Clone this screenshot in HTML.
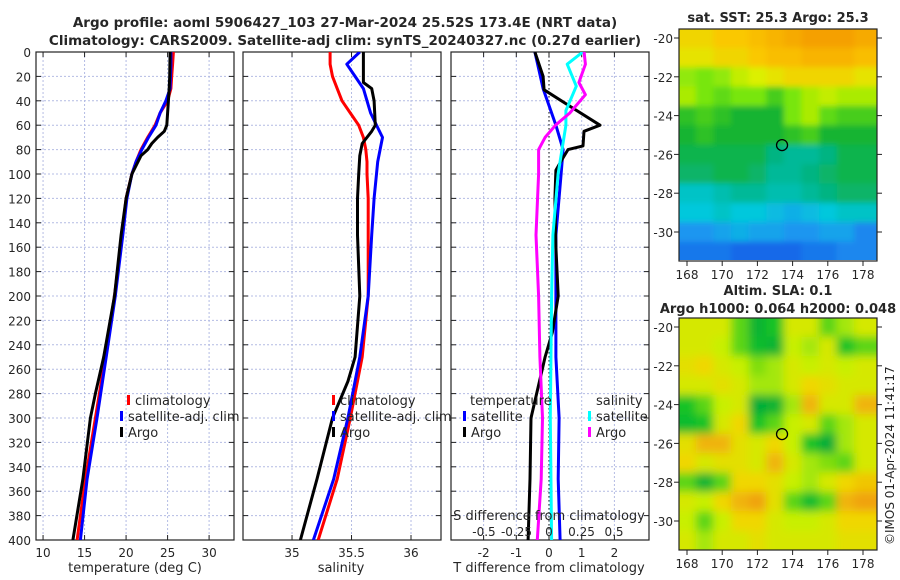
<!DOCTYPE html>
<html><head><meta charset="utf-8">
<style>
body{margin:0;background:#fff;}
svg{display:block;font-family:"DejaVu Sans","Liberation Sans",sans-serif;}
text{fill:#262626;}
</style></head>
<body>
<svg id="fig" width="900" height="580" viewBox="0 0 900 580">
<defs>
<filter id="blurA" x="-5%" y="-5%" width="110%" height="110%"><feGaussianBlur stdDeviation="3"/></filter>
<filter id="blurB" x="-5%" y="-5%" width="110%" height="110%"><feGaussianBlur stdDeviation="4.5"/></filter>
<clipPath id="clipM1"><rect x="679" y="29" width="198" height="231"/></clipPath>
<clipPath id="clipM2"><rect x="679" y="318" width="198" height="232"/></clipPath>
<clipPath id="clipP1"><rect x="36" y="52" width="198" height="488"/></clipPath>
<clipPath id="clipP2"><rect x="243" y="52" width="198" height="488"/></clipPath>
<clipPath id="clipP3"><rect x="451" y="52" width="198" height="488"/></clipPath>
</defs>
<g font-weight="bold" font-size="13.5" text-anchor="middle">
<text x="345" y="27">Argo profile: aoml 5906427_103 27-Mar-2024 25.52S 173.4E (NRT data)</text>
<text x="345" y="45">Climatology: CARS2009. Satellite-adj clim: synTS_20240327.nc (0.27d earlier)</text>
</g>
<text x="778" y="22" font-weight="bold" font-size="13" text-anchor="middle">sat. SST: 25.3 Argo: 25.3</text>
<text x="778" y="295" font-weight="bold" font-size="13" text-anchor="middle">Altim. SLA: 0.1</text>
<text x="778" y="313" font-weight="bold" font-size="13" text-anchor="middle">Argo h1000: 0.064 h2000: 0.048</text>
<text transform="translate(894,545) rotate(-90)" font-size="12">©IMOS 01-Apr-2024 11:41:17</text>
<g id="root"></g>
</svg>
<script>
const depths=[0,10,20,30,40,50,60,70,80,90,100,120,150,200,250,300,350,400];
const tClim=[25.7,25.6,25.5,25.4,25.0,24.1,23.5,22.6,21.8,21.2,20.7,20.0,19.5,18.6,17.5,16.3,15.1,14.1];
const tSat=[25.4,25.4,25.35,25.3,24.8,24.1,23.6,22.7,21.9,21.2,20.7,20.1,19.6,18.7,17.6,16.5,15.3,14.5];
const tArgoD=[0,20,30,50,60,65,70,75,80,85,100,120,150,200,250,280,300,350,400];
const tArgo=[25.3,25.25,25.2,25.0,24.9,24.6,23.8,23.1,22.6,21.8,20.7,20.0,19.4,18.6,17.3,16.3,15.7,14.8,13.6];
const sClim=[35.32,35.32,35.34,35.38,35.42,35.49,35.56,35.60,35.62,35.63,35.63,35.64,35.64,35.64,35.59,35.49,35.38,35.22];
const sSat=[35.57,35.46,35.53,35.60,35.63,35.66,35.71,35.76,35.74,35.72,35.71,35.69,35.67,35.64,35.57,35.47,35.35,35.18];
const sArgoD=[0,25,30,40,60,65,75,85,100,120,150,200,250,270,300,350,400];
const sArgo=[35.60,35.60,35.67,35.69,35.70,35.67,35.59,35.57,35.56,35.55,35.55,35.57,35.53,35.47,35.34,35.21,35.07];
const dTSatD=[0,30,60,80,100,150,200,250,300,350,400];
const dTSat=[-0.43,-0.18,0.21,0.43,0.37,0.21,0.21,0.21,0.31,0.28,0.34];
const dTArgoD=[0,20,31,46,60,65,77,80,88,97,120,160,200,230,250,300,350,400];
const dTArgo=[-0.43,-0.18,-0.15,0.73,1.56,1.07,1.04,0.58,0.40,0.21,0.18,0.21,0.28,0.1,-0.12,-0.55,-0.58,-0.64];
const dSSatD=[0,10,28,48,60,80,100,150,200,300,400];
const dSSat=[0.26,0.14,0.21,0.13,0.13,0.10,0.07,0.03,0.02,0.01,0.02];
const dSArgoD=[0,10,25,35,50,60,70,80,100,150,200,250,300,350,400];
const dSArgo=[0.27,0.28,0.23,0.28,0.16,0.05,-0.03,-0.08,-0.08,-0.10,-0.08,-0.07,-0.05,-0.06,-0.09];
const depthTicks=[0,20,40,60,80,100,120,140,160,180,200,220,240,260,280,300,320,340,360,380,400];
const tTicks=[10,15,20,25,30];
const sTicks=[35,35.5,36];
const sTickLabels=["35","35.5","36"];
const dTTicks=[-2,-1,0,1,2];
const dSTicks=[-0.5,-0.25,0,0.25,0.5];
const dSTickLabels=["-0.5","-0.25","0","0.25","0.5"];
const mapLons=[168,169,170,171,172,173,174,175,176,177,178];
const mapLats=[-20,-21,-22,-23,-24,-25,-26,-27,-28,-29,-30,-31];
const lonTicks=[168,170,172,174,176,178];
const latTicks=[-20,-22,-24,-26,-28,-30];
const sstGrid=[
[26.0,26.0,26.1,26.1,26.2,26.3,26.4,26.5,26.5,26.5,26.4],
[25.9,25.9,26.0,26.0,26.1,26.2,26.2,26.3,26.3,26.3,26.2],
[25.5,25.4,25.5,25.7,25.8,25.9,26.0,26.0,26.0,26.0,25.9],
[25.6,25.4,25.3,25.4,25.4,25.2,25.4,25.6,25.7,25.6,25.6],
[25.1,25.2,25.1,25.0,25.0,25.0,25.4,25.6,25.3,25.2,25.2],
[25.0,25.1,25.0,25.0,25.0,25.0,25.1,25.2,25.0,25.0,25.0],
[24.9,24.9,24.9,24.9,24.9,24.7,24.6,24.6,24.7,24.9,24.9],
[24.8,24.8,24.9,24.9,24.8,24.6,24.6,24.7,24.8,24.9,24.9],
[24.4,24.4,24.5,24.6,24.6,24.5,24.5,24.6,24.7,24.8,24.8],
[24.3,24.3,24.4,24.3,24.3,24.2,24.1,24.2,24.3,24.4,24.4],
[23.9,23.9,24.0,24.1,24.0,24.0,23.9,23.9,24.0,24.0,23.8],
[23.7,23.7,23.7,23.6,23.6,23.6,23.6,23.7,23.7,23.8,23.8]];
const slaGrid=[
[0.5,0.5,0.5,0.3,0.1,0.2,0.5,0.5,0.3,0.4,0.5],
[0.5,0.5,0.45,0.3,0.15,0.1,0.45,0.4,0.5,0.2,0.3],
[0.55,0.6,0.5,0.45,0.35,0.4,0.5,0.45,0.5,0.45,0.5],
[0.5,0.5,0.55,0.5,0.4,0.4,0.5,0.6,0.55,0.5,0.5],
[0.2,0.3,0.45,0.5,0.05,0.1,0.4,0.7,0.5,0.5,0.7],
[0.15,0.2,0.5,0.6,0.2,0.3,0.45,0.5,0.3,0.4,0.5],
[0.55,0.7,0.7,0.55,0.5,0.6,0.45,0.2,0.05,0.4,0.5],
[0.6,0.5,0.55,0.55,0.5,0.7,0.5,0.4,0.35,0.3,0.5],
[0.3,0.1,0.3,0.6,0.6,0.55,0.45,0.4,0.5,0.6,0.65],
[0.5,0.45,0.6,0.7,0.75,0.55,0.3,0.15,0.3,0.7,0.75],
[0.45,0.3,0.45,0.6,0.6,0.5,0.45,0.45,0.5,0.6,0.6],
[0.5,0.4,0.5,0.5,0.55,0.5,0.5,0.5,0.5,0.55,0.55]];
const argoLon=173.4, argoLat=-25.52;

const NS="http://www.w3.org/2000/svg";
const root=document.getElementById('root');
function mk(tag,attrs,parent){const e=document.createElementNS(NS,tag);for(const k in attrs)e.setAttribute(k,attrs[k]);(parent||root).appendChild(e);return e;}
function txt(x,y,s,anchor,parent,size){const t=mk('text',{x:x,y:y,'font-size':size||12,'text-anchor':anchor||'start'},parent);t.textContent=s;return t;}
const Y=d=>52+d*(488/400);

function panel(name,x0,xmin,xmax,ticks,labels){
  const g=mk('g',{});
  
  
  const X=v=>x0+(v-xmin)/(xmax-xmin)*198;
  ticks.forEach(v=>{const l=mk('line',{x1:X(v),x2:X(v),y1:52,y2:540,stroke:'#b4bce4','stroke-width':1,'stroke-dasharray':'2,2'},g);
    });
  depthTicks.forEach(d=>{const l=mk('line',{x1:x0,x2:x0+198,y1:Y(d),y2:Y(d),stroke:'#b4bce4','stroke-width':1,'stroke-dasharray':'2,2'},g);
    
    mk('line',{x1:x0,x2:x0+5,y1:Y(d),y2:Y(d),stroke:'#222'},g);mk('line',{x1:x0+193,x2:x0+198,y1:Y(d),y2:Y(d),stroke:'#222'},g);});
  ticks.forEach((v,i)=>{mk('line',{x1:X(v),x2:X(v),y1:535,y2:540,stroke:'#222'},g);mk('line',{x1:X(v),x2:X(v),y1:52,y2:57,stroke:'#222'},g);
    if(labels){const t=txt(X(v),557,labels[i],'middle',g,12);}});
  const b=mk('rect',{x:x0,y:52,width:198,height:488,fill:'none',stroke:'#222','stroke-width':1.2},g);
  
  return {g,X};
}
function line(p,vals,ds,color,name,clip,w){
  const pts=vals.map((v,i)=>p.X(v).toFixed(1)+','+Y(ds[i]).toFixed(1)).join(' ');
  const l=mk('polyline',{points:pts,fill:'none',stroke:color,'stroke-width':w||3,'stroke-linejoin':'round','clip-path':'url(#'+clip+')'},p.g);
  
}
function legend(p,x,y,color,label,name){
  const g=mk('g',{},p.g);
  
  mk('rect',{x:x,y:y-10,width:3,height:10,fill:color},g);
  txt(x+8,y,label,'start',g,13);
}
depthTicks.forEach(d=>{const t=txt(31,Y(d)+5,String(d),'end',root,12);});

const p1=panel('temperature-panel',36,9.15,33,tTicks,tTicks.map(String));
line(p1,tClim,depths,'#ff0000','temperature-climatology-line','clipP1');
line(p1,tSat,depths,'#0000ff','temperature-satellite-line','clipP1');
line(p1,tArgo,tArgoD,'#000000','temperature-argo-line','clipP1');
legend(p1,127,405,'#ff0000','climatology','legend-climatology');
legend(p1,120,421,'#0000ff','satellite-adj. clim','legend-satellite');
legend(p1,120,437,'#000000','Argo','legend-argo');
txt(135,572,'temperature (deg C)','middle',root,13);

const p2=panel('salinity-panel',243,34.588,36.252,sTicks,sTickLabels);
line(p2,sClim,depths,'#ff0000','salinity-climatology-line','clipP2');
line(p2,sSat,depths,'#0000ff','salinity-satellite-line','clipP2');
line(p2,sArgo,sArgoD,'#000000','salinity-argo-line','clipP2');
legend(p2,332,405,'#ff0000','climatology','legend-climatology-s');
legend(p2,332,421,'#0000ff','satellite-adj. clim','legend-satellite-s');
legend(p2,332,437,'#000000','Argo','legend-argo-s');
txt(341,572,'salinity','middle',root,13);

const p3=panel('difference-panel',451,-2.997,3.058,dTTicks,dTTicks.map(String));
mk('line',{x1:p3.X(0),x2:p3.X(0),y1:52,y2:540,stroke:'#333','stroke-width':1.2,'stroke-dasharray':'1.5,2.5'},p3.g);
line(p3,dTSat,dTSatD,'#0000ff','t-diff-satellite-line','clipP3');
line(p3,dTArgo,dTArgoD,'#000000','t-diff-argo-line','clipP3');
const XS=v=>549+v*130;
const sx={X:XS,g:p3.g};
line(sx,dSSat,dSSatD,'#00ffff','s-diff-satellite-line','clipP3');
line(sx,dSArgo,dSArgoD,'#ff00ff','s-diff-argo-line','clipP3');
txt(470,405,'temperature','start',p3.g,13);
legend(p3,463,421,'#0000ff','satellite','legend-t-satellite');
legend(p3,463,437,'#000000','Argo','legend-t-argo');
txt(596,405,'salinity','start',p3.g,13);
legend(p3,588,421,'#00ffff','satellite','legend-s-satellite');
legend(p3,588,437,'#ff00ff','Argo','legend-s-argo');
txt(549,520,'S difference from climatology','middle',p3.g,13);
dSTicks.forEach((v,i)=>{const t=txt(XS(v),536,dSTickLabels[i],'middle',p3.g,12);});
txt(549,572,'T difference from climatology','middle',root,13);

function lerpC(stops,v){
  if(v<=stops[0][0])return 'rgb('+stops[0][1].join(',')+')';
  for(let i=1;i<stops.length;i++){if(v<=stops[i][0]){const a=stops[i-1],b=stops[i],f=(v-a[0])/(b[0]-a[0]);
    return 'rgb('+[0,1,2].map(k=>Math.round(a[1][k]+(b[1][k]-a[1][k])*f)).join(',')+')';}}
  return 'rgb('+stops[stops.length-1][1].join(',')+')';
}
const sstStops=[[23.5,[20,90,230]],[23.9,[30,150,240]],[24.3,[0,200,220]],[24.7,[0,180,130]],[25.0,[20,180,50]],[25.4,[120,230,10]],[25.8,[220,240,0]],[26.1,[250,200,0]],[26.5,[245,160,0]]];
const slaStops=[[0.0,[0,165,60]],[0.2,[20,195,40]],[0.45,[200,240,0]],[0.6,[240,215,0]],[0.8,[240,145,20]]];
function map(name,top,grid,stops,clip,blur){
  const g=mk('g',{});
  
  const LX=lon=>687+(lon-168)*17.6;
  const LY=lat=>top+9+(-20-lat)*19.4;
  const cg=mk('g',{'clip-path':'url(#'+clip+')'},g);
  mk('rect',{x:679,y:top,width:198,height:232,fill:lerpC(stops,grid[5][5])},cg);
  const bg=mk('g',{filter:'url(#'+blur+')'},cg);
  grid.forEach((row,r)=>row.forEach((v,c)=>{
    const w=17.6,h=19.4;
    let x=LX(mapLons[c])-w/2,y=LY(mapLats[r])-h/2,ww=w+0.5,hh=h+0.5;
    if(c===0){x-=20;ww+=20;} if(c===row.length-1){ww+=20;}
    if(r===0){y-=20;hh+=20;} if(r===grid.length-1){hh+=20;}
    const cell=mk('rect',{x:x,y:y,width:ww,height:hh,fill:lerpC(stops,v)},bg);
    
    
  }));
  const c=mk('circle',{cx:LX(argoLon),cy:LY(argoLat),r:5.5,fill:'none',stroke:'#000','stroke-width':1.3},g);
  
  const b=mk('rect',{x:679,y:top,width:198,height:232,fill:'none',stroke:'#222','stroke-width':1.2},g);
  
  latTicks.forEach(lat=>{mk('line',{x1:674,x2:679,y1:LY(lat),y2:LY(lat),stroke:'#222'},g);mk('line',{x1:877,x2:882,y1:LY(lat),y2:LY(lat),stroke:'#222'},g);
    const t=txt(673,LY(lat)+5,String(lat),'end',g,12);});
  lonTicks.forEach(lon=>{mk('line',{x1:LX(lon),x2:LX(lon),y1:top+232,y2:top+237,stroke:'#222'},g);
    const t=txt(LX(lon),top+250,String(lon),'middle',g,12);});
}
map('sst-map',29,sstGrid,sstStops,'clipM1','blurA');
map('sla-map',318,slaGrid,slaStops,'clipM2','blurB');
</script>
</body></html>
